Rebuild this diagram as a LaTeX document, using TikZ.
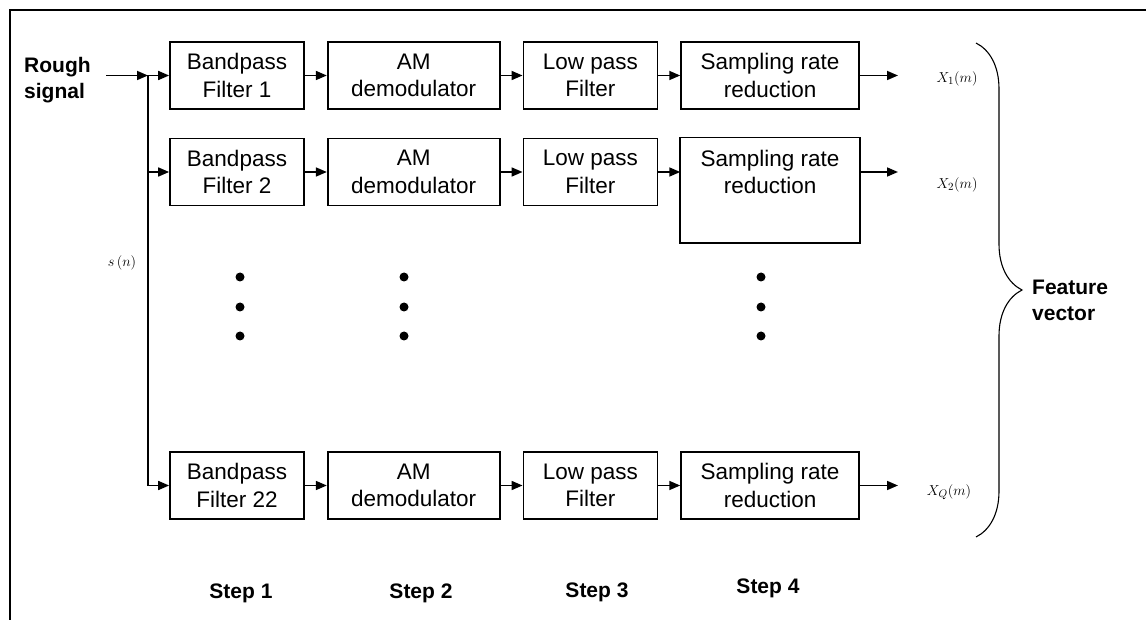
\documentclass[tikz,border=0pt]{standalone}
\usepackage[no-math]{fontspec}
\setmainfont{Liberation Sans}
\usetikzlibrary{positioning, arrows.meta, decorations.pathreplacing}

\tikzstyle{bandpass} = [
  rectangle,
  minimum width=134pt, minimum height=67pt,
  text centered, align=center, inner sep=0pt,
  draw=black, line width=1.7pt
]
\tikzstyle{demod} = [
  rectangle,
  minimum width=172pt, minimum height=67pt,
  text centered, align=center, inner sep=0pt,
  draw=black, line width=1.7pt
]
\tikzstyle{lowpass} = [
  rectangle,
  minimum width=134pt, minimum height=67pt,
  text centered, align=center, inner sep=0pt,
  draw=black, line width=1.7pt
]
\tikzstyle{reduce} = [
  rectangle,
  minimum width=178pt, minimum height=67pt,
  text centered, align=center, inner sep=0pt,
  draw=black, line width=1.7pt
]
\tikzset{
  arrow/.style={
    line width=1.7pt,
    -{Triangle[length=11pt,width=9pt]}
  }
}
\tikzset{
  boldtext/.style={font=\fontsize{21}{26}\selectfont\bfseries, align=left, inner sep=0pt},
  mathtext/.style={font=\fontsize{15.5}{18}\selectfont, inner sep=0pt}
}

\begin{document}
\begin{tikzpicture}[
  x=1pt, y=-1pt,
  font=\fontsize{22.5}{27.5}\selectfont,
  node distance=22pt
]
\useasboundingbox (0,0) rectangle (1146,620);

% frame (top and left only)
\draw[line width=1.4pt] (1146,10) -- (10,10) -- (10,620);

% ------------------------------------------------
% channel 1
% ------------------------------------------------
\node[bandpass] (bp1) at (237,75.5) {Bandpass\\Filter 1};
\node[demod, right=of bp1] (am1) {AM\\demodulator};
\node[lowpass, right=of am1] (lp1) {Low pass\\Filter};
\node[reduce, right=of lp1] (sr1) {Sampling rate\\reduction};

% ------------------------------------------------
% channel 2
% ------------------------------------------------
\node[bandpass] (bp2) at (237,172) {Bandpass\\Filter 2};
\node[demod, right=of bp2] (am2) {AM\\demodulator};
\node[lowpass, right=of am2] (lp2) {Low pass\\Filter};
\node[reduce, draw=none, right=of lp2] (sr2) {Sampling rate\\reduction};
% taller box round sr2
\draw[line width=1.7pt] (sr2.north west) rectangle ([yshift=-37pt]sr2.south east);

% ------------------------------------------------
% channel Q (last)
% ------------------------------------------------
\node[bandpass] (bpq) at (237,485.5) {Bandpass\\Filter 22};
\node[demod, right=of bpq] (amq) {AM\\demodulator};
\node[lowpass, right=of amq] (lpq) {Low pass\\Filter};
\node[reduce, right=of lpq] (srq) {Sampling rate\\reduction};

% input and bus
\node[boldtext, anchor=west] (rough) at (24,80) {Rough\\signal};
\node[mathtext] (sn) at (122,263) {$s\left(n\right)$};
\coordinate (in) at (106,75.5);
\coordinate (s1) at (148,75.5);
\coordinate (s2) at (148,172);
\coordinate (sq) at (148,485.5);

\draw[arrow] (in) -- (s1);
\draw[line width=1.7pt] (s1) -- (sq);
\draw[arrow] (s1) -- (bp1);
\draw[arrow] (s2) -- (bp2);
\draw[arrow] (sq) -- (bpq);

% chains
\draw[arrow] (bp1) -- (am1);
\draw[arrow] (am1) -- (lp1);
\draw[arrow] (lp1) -- (sr1);
\draw[arrow] (bp2) -- (am2);
\draw[arrow] (am2) -- (lp2);
\draw[arrow] (lp2) -- (sr2);
\draw[arrow] (bpq) -- (amq);
\draw[arrow] (amq) -- (lpq);
\draw[arrow] (lpq) -- (srq);

% dots
\fill (240,277) circle (4.5pt);
\fill (240,307) circle (4.5pt);
\fill (240,336) circle (4.5pt);
\fill (404,277) circle (4.5pt);
\fill (404,307) circle (4.5pt);
\fill (404,336) circle (4.5pt);
\fill (761,277) circle (4.5pt);
\fill (761,307) circle (4.5pt);
\fill (761,336) circle (4.5pt);

% outputs
\coordinate (o1) at (898,75.5);
\coordinate (o2) at (898,172);
\coordinate (oq) at (898,485.5);
\draw[arrow] (sr1) -- (o1);
\draw[arrow] (sr2) -- (o2);
\draw[arrow] (srq) -- (oq);
\node[mathtext] (x1) at (957,79) {$X_1(m)$};
\node[mathtext] (x2) at (957,185) {$X_2(m)$};
\node[mathtext] (xq) at (949,492) {$X_Q(m)$};

% brace
\coordinate (bt) at (976,43);
\coordinate (bb) at (976,537);
\draw[line width=1.1pt, decorate, decoration={brace, amplitude=46pt}] (bt) -- (bb);
\node[boldtext, anchor=west] (fv) at (1032,300) {Feature\\vector};

% steps
\node[boldtext] (st1) at (241,593) {Step 1};
\node[boldtext] (st2) at (421,593) {Step 2};
\node[boldtext] (st3) at (597,592) {Step 3};
\node[boldtext] (st4) at (768,588.5) {Step 4};

\end{tikzpicture}
\end{document}
